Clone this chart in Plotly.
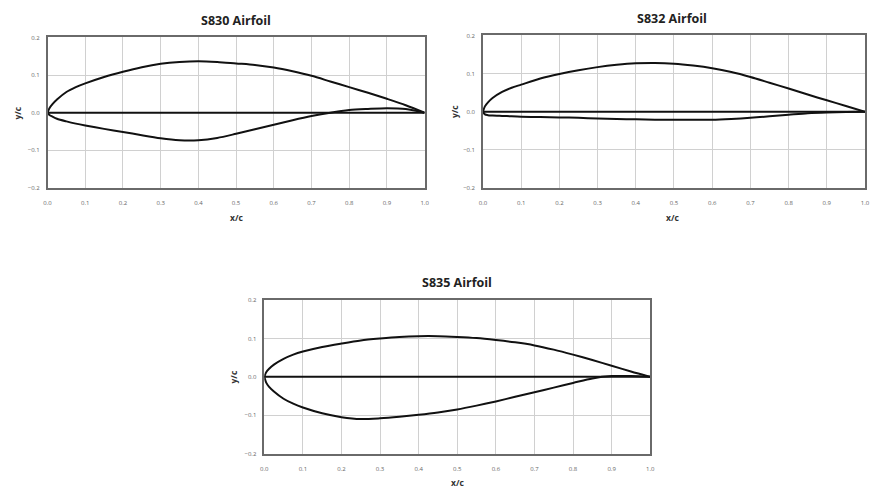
import plotly.graph_objects as go

W, H = 870, 494

# ---------------- data ----------------
x_stations = [0.0, 0.005, 0.0125, 0.025, 0.05, 0.075, 0.1, 0.15, 0.2, 0.25, 0.3, 0.35,
              0.4, 0.45, 0.5, 0.55, 0.6, 0.65, 0.7, 0.75, 0.8, 0.85, 0.9, 0.95, 1.0]

s830_upper = [0.0, 0.012, 0.022, 0.035, 0.055, 0.068, 0.078, 0.095, 0.109, 0.121, 0.130, 0.135,
              0.137, 0.135, 0.131, 0.127, 0.120, 0.110, 0.098, 0.083, 0.068, 0.053, 0.037, 0.020, 0.0]
s830_lower = [0.0, -0.006, -0.010, -0.016, -0.023, -0.029, -0.034, -0.043, -0.051, -0.060, -0.068, -0.073,
              -0.073, -0.067, -0.056, -0.044, -0.032, -0.020, -0.009, 0.0, 0.007, 0.010, 0.012, 0.010, 0.0]

s832_upper = [0.0, 0.014, 0.024, 0.036, 0.052, 0.063, 0.071, 0.087, 0.099, 0.109, 0.117, 0.123,
              0.127, 0.128, 0.126, 0.121, 0.114, 0.104, 0.091, 0.076, 0.061, 0.045, 0.030, 0.015, 0.0]
s832_lower = [0.0, -0.007, -0.009, -0.010, -0.011, -0.012, -0.013, -0.014, -0.015, -0.016, -0.018, -0.019,
              -0.020, -0.021, -0.021, -0.021, -0.021, -0.019, -0.016, -0.012, -0.008, -0.004, -0.002, -0.001, 0.0]

s835_upper = [0.0, 0.012, 0.021, 0.032, 0.047, 0.058, 0.066, 0.078, 0.087, 0.095, 0.100, 0.104,
              0.106, 0.106, 0.104, 0.101, 0.096, 0.090, 0.082, 0.071, 0.058, 0.044, 0.029, 0.014, 0.0]
s835_lower = [0.0, -0.015, -0.026, -0.038, -0.057, -0.070, -0.080, -0.095, -0.105, -0.110, -0.108, -0.104,
              -0.099, -0.093, -0.085, -0.075, -0.064, -0.052, -0.040, -0.028, -0.016, -0.004, 0.002, 0.002, 0.0]

chord_x = [0.0, 1.0]
chord_y = [0.0, 0.0]

titles = ["S830 Airfoil", "S832 Airfoil", "S835 Airfoil"]
x_ticks = [0.0, 0.1, 0.2, 0.3, 0.4, 0.5, 0.6, 0.7, 0.8, 0.9, 1.0]
y_ticks = [-0.2, -0.1, 0.0, 0.1, 0.2]

# ---------------- layout in pixels ----------------
panels = [
    # left, right, top, bottom (pixels)
    dict(l=44, r=425, t=34, b=187, title_y=17, xt_y=217, yt_x=14),
    dict(l=484, r=870, t=32, b=187, title_y=15, xt_y=217, yt_x=455),
    dict(l=263, r=653, t=301, b=457, title_y=283, xt_y=486, yt_x=232),
]
surfaces = [(s830_upper, s830_lower), (s832_upper, s832_lower), (s835_upper, s835_lower)]

fig = go.Figure()
annotations = []
TXT = "Open Sans"

for i, (p, (up, lo)) in enumerate(zip(panels, surfaces)):
    xa = "x" if i == 0 else f"x{i+1}"
    ya = "y" if i == 0 else f"y{i+1}"
    for ys in (up, lo):
        fig.add_trace(go.Scatter(x=x_stations, y=ys, mode="lines", xaxis=xa, yaxis=ya,
                                 line=dict(color="#111111", width=2, shape="spline", smoothing=0.8),
                                 showlegend=False, hoverinfo="skip"))
    fig.add_trace(go.Scatter(x=chord_x, y=chord_y, mode="lines", xaxis=xa, yaxis=ya,
                             line=dict(color="#111111", width=2),
                             showlegend=False, hoverinfo="skip"))
    xdom = [p["l"] / W, p["r"] / W]
    ydom = [1 - p["b"] / H, 1 - p["t"] / H]
    axkey_x = "xaxis" if i == 0 else f"xaxis{i+1}"
    axkey_y = "yaxis" if i == 0 else f"yaxis{i+1}"
    fig.update_layout({
        axkey_x: dict(domain=xdom, anchor=ya, range=[0, 1], tickvals=x_ticks, tickformat=".1f",
                      showgrid=True, gridcolor="#d0d0d0", gridwidth=1,
                      showline=True, linecolor="#6a6a6a", linewidth=1.5, mirror=True,
                      zeroline=False, ticks="", ticklen=0, ticklabelstandoff=8,
                      tickfont=dict(family=TXT, size=6, color="#666666"), fixedrange=True),
        axkey_y: dict(domain=ydom, anchor=xa, range=[-0.2, 0.2], tickvals=y_ticks, tickformat=".1f",
                      showgrid=True, gridcolor="#d0d0d0", gridwidth=1,
                      showline=True, linecolor="#6a6a6a", linewidth=1.5, mirror=True,
                      zeroline=False, ticks="", ticklen=0, ticklabelstandoff=5,
                      tickfont=dict(family=TXT, size=6, color="#666666"), fixedrange=True),
    })
    cx = (p["l"] + p["r"]) / 2
    if i == 1:
        cx = (p["l"] + 866) / 2
    annotations.append(dict(text=f"<b>{titles[i]}</b>", x=cx / W, y=1 - p["title_y"] / H,
                            xref="paper", yref="paper", showarrow=False,
                            xanchor="center", yanchor="middle",
                            font=dict(family=TXT, size=12.5, color="#222222")))
    annotations.append(dict(text="<b>x/c</b>", x=cx / W, y=1 - p["xt_y"] / H,
                            xref="paper", yref="paper", showarrow=False,
                            xanchor="center", yanchor="middle",
                            font=dict(family=TXT, size=8.5, color="#333333")))
    annotations.append(dict(text="<b>y/c</b>", x=p["yt_x"] / W, y=1 - (p["t"] + p["b"]) / 2 / H,
                            xref="paper", yref="paper", showarrow=False, textangle=-90,
                            xanchor="center", yanchor="middle",
                            font=dict(family=TXT, size=8.5, color="#333333")))

fig.update_layout(width=W, height=H, margin=dict(l=0, r=0, t=0, b=0),
                  paper_bgcolor="white", plot_bgcolor="white",
                  annotations=annotations, showlegend=False)

fig.write_html("out.html", config={"displayModeBar": False},
               post_script="document.body.style.margin='0';document.body.style.overflow='hidden';")
